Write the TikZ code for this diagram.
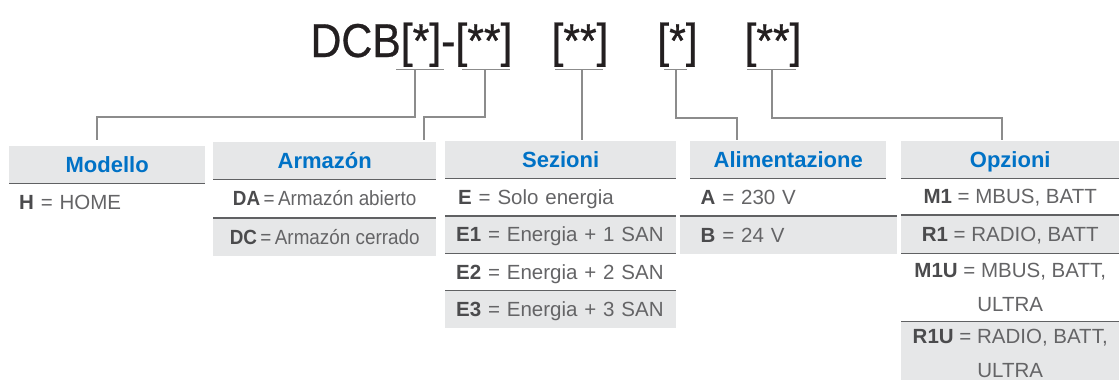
\documentclass[tikz,border=0pt]{standalone}
\usepackage{fontspec}
\setmainfont{Liberation Sans}
\newfontfamily\titlefont[FakeStretch=0.9,FakeBold=0.6]{Liberation Sans}
\newfontfamily\condfont[FakeStretch=0.92]{Liberation Sans}
\usepackage{xcolor}
\usepackage{tikz}
\usetikzlibrary{positioning}

\definecolor{hblue}{RGB}{0,114,198}
\definecolor{hgray}{RGB}{230,231,232}
\definecolor{sepgray}{RGB}{96,97,99}
\definecolor{txtgray}{RGB}{100,100,102}
\definecolor{keygray}{RGB}{75,75,77}
\definecolor{lngray}{RGB}{140,140,140}
\definecolor{ink}{RGB}{35,31,32}
\newcommand{\key}[1]{\textbf{\color{keygray}#1}}

\begin{document}
\begin{tikzpicture}[
    x=1pt, y=-1pt,
    code/.style={anchor=base, inner sep=0pt, text=ink, font=\titlefont\fontsize{47.5}{50}\selectfont},
    head/.style={anchor=north west, fill=hgray, inner sep=0pt, minimum height=37pt, text height=15.8pt, text depth=0pt, text=hblue, font=\fontsize{22}{26}\selectfont\bfseries},
    item/.style={inner sep=0pt, minimum height=37pt, text height=14.7pt, text depth=0pt, text=txtgray, font=\fontsize{20.5}{34}\selectfont},
    twoline/.style={align=center, text height=48.7pt, text depth=0pt},
    shaded/.style={fill=hgray},
    sep/.style={draw=sepgray, line width=1.4pt},
    bar/.style={draw=lngray, line width=1pt},
    conn/.style={draw=lngray, line width=1.1pt}
]
\useasboundingbox (0,0) rectangle (1119,380);
\clip (0,0) rectangle (1119,380);

% code
\node[code] (c1) at (411.5,57) {DCB[*]-[**]};
\node[code] (c2) at (580,57) {[**]};
\node[code] (c3) at (677.5,57) {[*]};
\node[code] (c4) at (773,57) {[**]};

% Modello
\node[head, minimum width=196pt] (mod) at (9,146) {Modello};
\node[item, minimum height=38pt, text width=176pt, inner xsep=20pt, align=left, below=0pt of mod] (mod1) {\key{H} = HOME};
\draw[sep] (mod.south west) -- (mod.south east);

% Armazon
\node[head, minimum width=223pt] (arm) at (213,142) {Armazón};
\node[item, minimum width=223pt, minimum height=38pt, font=\condfont\fontsize{20.5}{34}\selectfont, below=0pt of arm] (arm1) {\key{DA}\,=\,Armazón abierto};
\node[item, shaded, minimum width=223pt, minimum height=38pt, font=\condfont\fontsize{20.5}{34}\selectfont, below=0pt of arm1] (arm2) {\key{DC}\,=\,Armazón cerrado};
\draw[sep] (arm.south west) -- (arm.south east);
\draw[sep] (arm1.south west) -- (arm1.south east);

% Sezioni
\node[head, minimum width=231pt] (sez) at (445,141) {Sezioni};
\node[item, text width=215pt, inner xsep=16pt, xshift=5pt, align=left, below=0pt of sez] (sez1) {\key{E} = Solo energia};
\node[item, shaded, text width=209pt, inner xsep=11pt, align=left, below=0pt of sez.south |- sez1.south] (sez2) {\key{E1} = Energia + 1 SAN};
\node[item, text width=209pt, inner xsep=11pt, align=left, below=0pt of sez2] (sez3) {\key{E2} = Energia + 2 SAN};
\node[item, shaded, text width=209pt, inner xsep=11pt, align=left, below=0pt of sez3] (sez4) {\key{E3} = Energia + 3 SAN};
\draw[sep] (sez.south west) -- (sez.south east);
\draw[sep] (sez2.north west) -- (sez2.north east);
\draw[sep] (sez3.north west) -- (sez3.north east);
\draw[sep] (sez4.north west) -- (sez4.north east);

% Alimentazione
\node[head, minimum width=196pt] (ali) at (690,141) {Alimentazione};
\node[item, text width=175pt, inner xsep=21pt, align=left, below=0pt of ali] (ali1) {\key{A} = 230 V};
\node[item, shaded, minimum height=38pt, text width=175pt, inner xsep=21pt, align=left, below=0pt of ali1] (ali2) {\key{B} = 24 V};
\draw[sep] (ali.south west) -- (ali.south east);
\draw[sep] (ali1.south west) -- (ali1.south east);

% Opzioni
\node[head, minimum width=218pt] (opz) at (901,141) {Opzioni};
\node[item, minimum width=218pt, minimum height=36pt, below=0pt of opz] (opz1) {\key{M1} = MBUS, BATT};
\node[item, shaded, minimum width=218pt, minimum height=38pt, below=0pt of opz1] (opz2) {\key{R1} = RADIO, BATT};
\node[item, twoline, minimum width=218pt, minimum height=68pt, below=0pt of opz2] (opz3) {\key{M1U} = MBUS, BATT,\\ULTRA};
\node[item, twoline, shaded, minimum width=218pt, minimum height=63pt, below=0pt of opz3] (opz4) {\key{R1U} = RADIO, BATT,\\ULTRA};
\draw[sep] (opz.south west) -- (opz.south east);
\draw[sep] (opz1.south west) -- (opz1.south east);
\draw[sep] (opz2.south west) -- (opz2.south east);
\draw[sep] (opz3.south west) -- (opz3.south east);

% connectors
\draw[bar] (396,69) -- (444,69);
\draw[bar] (462,69) -- (510,69);
\draw[bar] (555,69) -- (603,69);
\draw[bar] (664,69) -- (687,69);
\draw[bar] (747,69) -- (796,69);
\coordinate (d1) at (415,69);
\coordinate (d2) at (485,69);
\coordinate (d3) at (582,69);
\coordinate (d4) at (676,69);
\coordinate (d5) at (772,69);
\coordinate (t1) at (97,140);
\coordinate (t2) at (424,140);
\coordinate (t3) at (582,140);
\coordinate (t4) at (737,140);
\coordinate (t5) at (1002,140);
\draw[conn] (d1) -- ++(0,48) -| (t1);
\draw[conn] (d2) -- ++(0,48) -| (t2);
\draw[conn] (d3) -- (t3);
\draw[conn] (d4) -- ++(0,49) -| (t4);
\draw[conn] (d5) -- ++(0,49) -| (t5);
\end{tikzpicture}
\end{document}
